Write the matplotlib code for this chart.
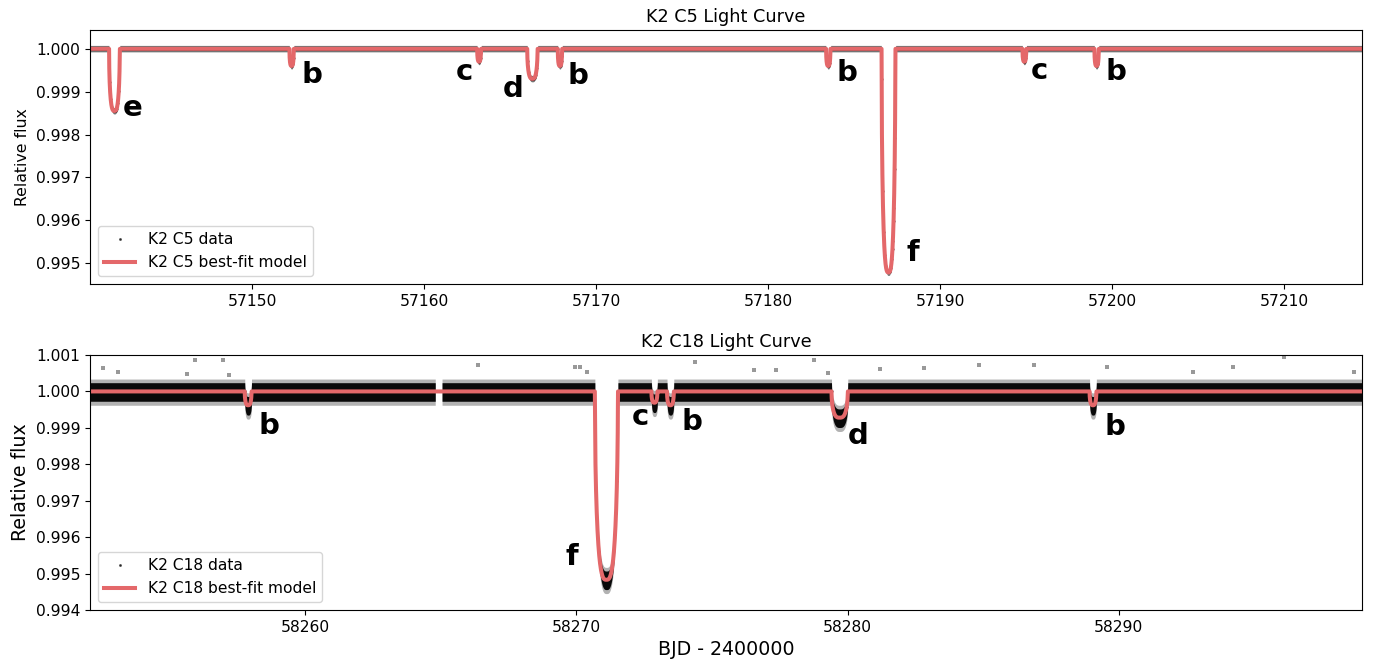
import numpy as np
import matplotlib
matplotlib.use("Agg")
import matplotlib.pyplot as plt
from matplotlib.ticker import FormatStrFormatter, FixedLocator

# ---------------- data ----------------
# K2 C5 transits: planet, mid-time, model depth (fraction), full duration (d)
c5_planets = ["e", "b", "c", "d", "b", "b", "f", "c", "b"]
c5_tmid = [57142.00, 57152.30, 57163.20, 57166.30, 57167.90, 57183.50, 57187.00, 57194.90, 57199.10]
c5_depth = [0.00145, 0.00040, 0.00030, 0.00070, 0.00040, 0.00040, 0.00522, 0.00030, 0.00040]
c5_dur = [0.62, 0.25, 0.22, 0.60, 0.25, 0.25, 0.80, 0.22, 0.25]
c5_range = [57140.58, 57214.53]
c5_label_x = [57143.08, 57153.49, 57162.32, 57165.17, 57168.95, 57184.59, 57188.43, 57195.75, 57200.23]
c5_label_y = [0.99862, 0.99939, 0.99946, 0.99907, 0.99937, 0.99944, 0.99523, 0.99949, 0.99946]
c5_scatter_hi = 0.00008
c5_scatter_lo = 0.00007

# K2 C18 transits
c18_planets = ["b", "f", "c", "b", "d", "b"]
c18_tmid = [58257.90, 58271.11, 58272.88, 58273.47, 58279.71, 58289.05]
c18_depth = [0.00038, 0.00517, 0.00031, 0.00038, 0.00072, 0.00038]
c18_dur = [0.25, 0.85, 0.22, 0.25, 0.60, 0.25]
c18_range = [58252.07, 58298.97]
c18_gap = [58264.80, 58265.05]
c18_label_x = [58258.68, 58269.82, 58272.37, 58274.28, 58280.41, 58289.86]
c18_label_y = [0.99906, 0.99546, 0.99930, 0.99917, 0.99878, 0.99903]
c18_scatter_outer = [0.00034, 0.00038]
c18_scatter_inner = [0.00024, 0.00027]
c18_out_t = [58252.55, 58253.10, 58255.94, 58256.98, 58255.65, 58257.20, 58266.39, 58269.97,
             58270.15, 58270.40, 58274.36, 58278.75, 58276.54, 58277.35, 58279.27, 58281.19,
             58284.84, 58286.87, 58289.56, 58294.21, 58296.10, 58292.73, 58298.68, 58282.81]
c18_out_f = [1.00065, 1.00054, 1.00087, 1.00087, 1.00049, 1.00046, 1.00073, 1.00068,
             1.00068, 1.00054, 1.00082, 1.00087, 1.00060, 1.00060, 1.00051, 1.00062,
             1.00073, 1.00073, 1.00068, 1.00068, 1.00095, 1.00054, 1.00054, 1.00065]

c5_yticks = [0.995, 0.996, 0.997, 0.998, 0.999, 1.000]
c18_yticks = [0.994, 0.995, 0.996, 0.997, 0.998, 0.999, 1.000, 1.001]
c5_xticks = [57150, 57160, 57170, 57180, 57190, 57200, 57210]
c18_xticks = [58260, 58270, 58280, 58290]

RED = "#e4686a"


def transit_model(t, tmids, depths, durs):
    f = np.ones_like(t)
    for tm, d, T in zip(tmids, depths, durs):
        x = np.abs(t - tm) / (T / 2.0)
        f -= d * np.sqrt(np.clip(1 - x ** 3, 0, 1))
    return f


fig = plt.figure(figsize=(13.76, 6.66), dpi=100)
W, H = 1376.0, 666.0
ax1 = fig.add_axes([90 / W, 1 - 284 / H, 1272 / W, 254 / H])
ax2 = fig.add_axes([90 / W, 1 - 610 / H, 1272 / W, 255 / H])

TICK = 11.2

# ---- C5 ----
t5 = np.arange(c5_range[0], c5_range[1], 0.0204)
m5 = transit_model(t5, c5_tmid, c5_depth, c5_dur)
ax1.fill_between(t5, m5 - c5_scatter_lo, m5 + c5_scatter_hi, color="k", alpha=0.55, lw=0)
ax1.plot(t5, m5, ".", color="k", ms=1.5, alpha=0.6, label="K2 C5 data")
tf5 = np.linspace(c5_range[0], c5_range[1], 40000)
ax1.plot(tf5, transit_model(tf5, c5_tmid, c5_depth, c5_dur), color=RED, lw=2.9,
         label="K2 C5 best-fit model")
for p, x, y in zip(c5_planets, c5_label_x, c5_label_y):
    ax1.text(x, y, p, fontsize=21, fontweight="bold", ha="center", va="center")
ax1.set_xlim(c5_range)
ax1.set_ylim(0.99451, 1.00044)
ax1.yaxis.set_major_locator(FixedLocator(c5_yticks))
ax1.xaxis.set_major_locator(FixedLocator(c5_xticks))
ax1.yaxis.set_major_formatter(FormatStrFormatter("%.3f"))
ax1.xaxis.set_major_formatter(FormatStrFormatter("%d"))
ax1.tick_params(labelsize=TICK)
ax1.set_ylabel("Relative flux", fontsize=11.3)
ax1.set_title("K2 C5 Light Curve", fontsize=12.7)
ax1.legend(loc="lower left", fontsize=TICK, markerscale=1.5)

# ---- C18 ----
t18 = np.arange(c18_range[0], c18_range[1], 0.0007)
t18 = t18[(t18 < c18_gap[0]) | (t18 > c18_gap[1])]
m18 = transit_model(t18, c18_tmid, c18_depth, c18_dur)
for seg in [t18 < c18_gap[0], t18 > c18_gap[1]]:
    ax2.fill_between(t18[seg], m18[seg] - c18_scatter_outer[1], m18[seg] + c18_scatter_outer[0],
                     color="k", alpha=0.3, lw=0)
    ax2.fill_between(t18[seg], m18[seg] - c18_scatter_inner[1], m18[seg] + c18_scatter_inner[0],
                     color="k", alpha=0.95, lw=0)
ax2.plot(c18_out_t, c18_out_f, "s", color="k", ms=2.5, alpha=0.4, mew=0)
ax2.plot(t18[::50], m18[::50], ".", color="k", ms=1.5, alpha=0.6, label="K2 C18 data")
tf18 = np.linspace(c18_range[0], c18_range[1], 40000)
ax2.plot(tf18, transit_model(tf18, c18_tmid, c18_depth, c18_dur), color=RED, lw=2.9,
         label="K2 C18 best-fit model")
for p, x, y in zip(c18_planets, c18_label_x, c18_label_y):
    ax2.text(x, y, p, fontsize=21, fontweight="bold", ha="center", va="center")
ax2.set_xlim(c18_range)
ax2.set_ylim(0.994, 1.001)
ax2.yaxis.set_major_locator(FixedLocator(c18_yticks))
ax2.xaxis.set_major_locator(FixedLocator(c18_xticks))
ax2.yaxis.set_major_formatter(FormatStrFormatter("%.3f"))
ax2.xaxis.set_major_formatter(FormatStrFormatter("%d"))
ax2.tick_params(labelsize=TICK)
ax2.set_ylabel("Relative flux", fontsize=13.7)
ax2.set_xlabel("BJD - 2400000", fontsize=13.7)
ax2.set_title("K2 C18 Light Curve", fontsize=12.7)
ax2.legend(loc="lower left", fontsize=TICK, markerscale=1.5)

fig.savefig("out.png", dpi=100)
